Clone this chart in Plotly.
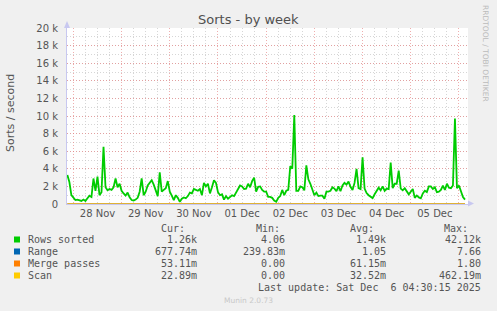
import plotly.graph_objects as go
import pandas as pd

# ---- data -------------------------------------------------------------
start_time = "2025-11-27 21:00"
# Rows sorted, thousands per second, hourly samples
rows_sorted_k = [
    3.3, 2.5, 1.0, 0.65, 0.45, 0.5, 0.45, 0.35, 0.5, 0.35,
    0.65, 0.95, 0.8, 2.9, 1.5, 3.1, 1.0, 1.35, 6.5, 1.9,
    1.55, 1.7, 1.6, 1.9, 2.9, 1.9, 2.3, 1.5, 1.2, 0.95,
    1.3, 0.75, 0.45, 0.4, 0.5, 0.7, 1.4, 2.9, 1.0, 1.4,
    2.1, 2.4, 2.7, 2.2, 1.5, 0.9, 3.6, 1.4, 1.6, 1.8,
    2.6, 1.4, 0.95, 0.45, 1.0, 0.7, 0.25, 0.6, 0.75, 0.65,
    0.9, 1.3, 1.2, 1.7, 1.6, 1.5, 1.7, 1.0, 2.4, 2.0,
    2.3, 1.2, 1.9, 2.7, 2.4, 1.35, 1.0, 1.1, 0.5, 0.9,
    0.6, 0.85, 1.0, 0.9, 1.3, 1.55, 2.1, 2.0, 1.7, 1.75,
    2.3, 1.9, 2.6, 3.0, 1.4, 1.95, 2.0, 1.6, 1.4, 1.4,
    0.8, 0.8, 0.7, 0.4, 0.25, 0.7, 0.9, 1.6, 1.0, 1.5,
    1.6, 4.3, 4.0, 10.1, 1.5, 1.5, 2.0, 1.9, 1.55, 4.4,
    2.8, 2.3, 1.6, 1.0, 1.3, 0.9, 0.95, 0.95, 0.6, 1.4,
    1.4, 1.5, 1.9, 1.75, 1.45, 2.0, 1.45, 2.1, 2.4, 2.2,
    2.55, 1.95, 1.6, 2.4, 4.0, 1.8, 1.7, 5.3, 1.75, 1.25,
    1.0, 0.8, 0.67, 1.1, 1.45, 1.85, 1.55, 2.0, 1.5, 1.75,
    1.7, 4.7, 1.8, 2.3, 2.3, 3.8, 1.75, 1.55, 1.8, 1.5,
    1.1, 1.4, 1.7, 0.7, 0.97, 0.75, 0.65, 1.2, 1.5, 1.35,
    2.0, 2.0, 1.7, 1.9, 1.35, 1.4, 1.6, 2.1, 1.6, 2.3,
    1.85, 1.8, 2.1, 9.7, 1.8, 2.1, 1.3, 0.8, 0.5,
]
# small series (per second), sampled every 22 h
range_vals = [1.1, 0.9, 1.2, 1.0, 1.05, 1.1, 0.95, 1.0, 1.1, 0.68]
merge_vals = [0.06, 0.05, 0.07, 0.06, 0.05, 0.06, 0.07, 0.06, 0.06, 0.05]
scan_vals = [0.03, 0.03, 0.04, 0.03, 0.03, 0.03, 0.04, 0.03, 0.03, 0.02]

series_names = ["Rows sorted", "Range", "Merge passes", "Scan"]
series_colors = ["#00CC00", "#0066B3", "#FF8000", "#FFCC00"]
cur_vals = ["1.26k", "677.74m", "53.11m", "22.89m"]
min_vals = ["4.06", "239.83m", "0.00", "0.00"]
avg_vals = ["1.49k", "1.05", "61.15m", "32.52m"]
max_vals = ["42.12k", "7.66", "1.80", "462.19m"]

y_tick_vals = list(range(0, 20001, 2000))
y_tick_text = ["0"] + [f"{v // 1000} k" for v in y_tick_vals[1:]]

x_range = ["2025-11-27 20:49", "2025-12-06 04:30"]
last_update = "Last update: Sat Dec  6 04:30:15 2025"

# ---- figure -----------------------------------------------------------
times = pd.date_range(start_time, periods=len(rows_sorted_k), freq="1h")
rows_sorted = [v * 1000 for v in rows_sorted_k]
times_small = times[::22]

W_PAGE, H_PAGE = 497, 311
L, R, T, B = 67, 29, 28, 107
PW = W_PAGE - L - R
PH = H_PAGE - T - B


def fx(px):
    return (px - L) / PW


def fy(py):
    return (H_PAGE - B - py) / PH


fig = go.Figure()
fig.add_trace(go.Scatter(x=times, y=rows_sorted, mode="lines",
                         line=dict(color=series_colors[0], width=1.8),
                         showlegend=False))
for vals, col in zip([range_vals, merge_vals, scan_vals], series_colors[1:]):
    fig.add_trace(go.Scatter(x=times_small, y=vals, mode="lines",
                             line=dict(color=col, width=1.2),
                             showlegend=False))

MAJ = "rgba(230,130,130,0.65)"
MIN = "rgba(200,200,200,0.75)"
DASH = "1px,2px"
TXT = "#555555"

fig.update_layout(
    width=W_PAGE, height=H_PAGE,
    margin=dict(l=L, r=R, t=T, b=B),
    paper_bgcolor="#F0F0F0", plot_bgcolor="#FFFFFF",
    font=dict(family="DejaVu Sans", size=10, color=TXT),
    showlegend=False,
)
fig.update_xaxes(
    type="date", range=x_range,
    tick0="2025-11-28", dtick=86400000, tickformat="%d %b",
    ticklabelmode="period", ticks="",
    showgrid=True, gridcolor=MAJ, griddash=DASH, gridwidth=1,
    minor=dict(dtick=6 * 3600 * 1000, tick0="2025-11-28", showgrid=True,
               gridcolor=MIN, griddash=DASH, gridwidth=1),
    showline=True, linecolor="#C8C8F0", linewidth=1,
    zeroline=False, tickfont=dict(size=10, color=TXT),
)
fig.update_yaxes(
    range=[0, 20000], tickvals=y_tick_vals, ticktext=y_tick_text,
    ticks="", ticklabelstandoff=6,
    showgrid=True, gridcolor=MAJ, griddash=DASH, gridwidth=1,
    minor=dict(dtick=1000, showgrid=True, gridcolor=MIN, griddash=DASH,
               gridwidth=1),
    showline=True, linecolor="#C8C8F0", linewidth=1,
    zeroline=False, tickfont=dict(size=10, color=TXT),
)

shapes = []
# axis arrows
shapes.append(dict(type="path", xref="paper", yref="paper",
                   path=f"M {fx(64)} {fy(28)} L {fx(70)} {fy(28)} L {fx(67)} {fy(21)} Z",
                   fillcolor="#C8C8F0", line=dict(width=0)))
shapes.append(dict(type="path", xref="paper", yref="paper",
                   path=f"M {fx(468)} {fy(200.5)} L {fx(468)} {fy(206.5)} L {fx(474)} {fy(203.5)} Z",
                   fillcolor="#C8C8F0", line=dict(width=0)))

ann = []
ann.append(dict(text="Sorts - by week", xref="paper", yref="paper",
                x=fx(248.5), y=fy(19), xanchor="center", yanchor="middle",
                showarrow=False, font=dict(size=13, color="#505050",
                                           family="DejaVu Sans")))
ann.append(dict(text="Sorts / second", xref="paper", yref="paper",
                x=fx(10), y=fy(113), xanchor="center", yanchor="middle",
                textangle=-90, showarrow=False,
                font=dict(size=11, color=TXT, family="DejaVu Sans")))
ann.append(dict(text="RRDTOOL / TOBI OETIKER", xref="paper", yref="paper",
                x=fx(486), y=fy(53), xanchor="center", yanchor="middle",
                textangle=90, showarrow=False,
                font=dict(size=7.5, color="#BBBBBB", family="DejaVu Sans")))

MONO = dict(family="DejaVu Sans Mono", size=10, color=TXT)
col_right = [199, 287.3, 387.7, 482.7]
headers = ["Cur:", "Min:", "Avg:", "Max:"]
head_right = [187, 282, 376, 470]
for h, xr in zip(headers, head_right):
    ann.append(dict(text=h, xref="paper", yref="paper", x=fx(xr), y=fy(228.3),
                    xanchor="right", yanchor="middle", showarrow=False,
                    font=MONO))
for i, name in enumerate(series_names):
    yc = 239.5 + 12 * i
    shapes.append(dict(type="rect", xref="paper", yref="paper",
                       x0=fx(14), x1=fx(20), y0=fy(yc + 3), y1=fy(yc - 3),
                       fillcolor=series_colors[i], line=dict(width=0)))
    ann.append(dict(text=name, xref="paper", yref="paper", x=fx(26), y=fy(yc),
                    xanchor="left", yanchor="middle", showarrow=False,
                    font=MONO))
    for vals, xr in zip([cur_vals, min_vals, avg_vals, max_vals], col_right):
        ann.append(dict(text=vals[i], xref="paper", yref="paper", x=fx(xr),
                        y=fy(yc), xanchor="right", yanchor="middle",
                        showarrow=False, font=MONO))
ann.append(dict(text=last_update.replace(" ", "&nbsp;"), xref="paper", yref="paper",
                x=fx(482.7), y=fy(287.5), xanchor="right", yanchor="middle",
                showarrow=False, font=MONO))
ann.append(dict(text="Munin 2.0.73", xref="paper", yref="paper",
                x=fx(248), y=fy(300), xanchor="center", yanchor="middle",
                showarrow=False,
                font=dict(size=7.5, color="#C8C8C8", family="DejaVu Sans")))

fig.update_layout(shapes=shapes, annotations=ann)
fig.write_html("out.html")
